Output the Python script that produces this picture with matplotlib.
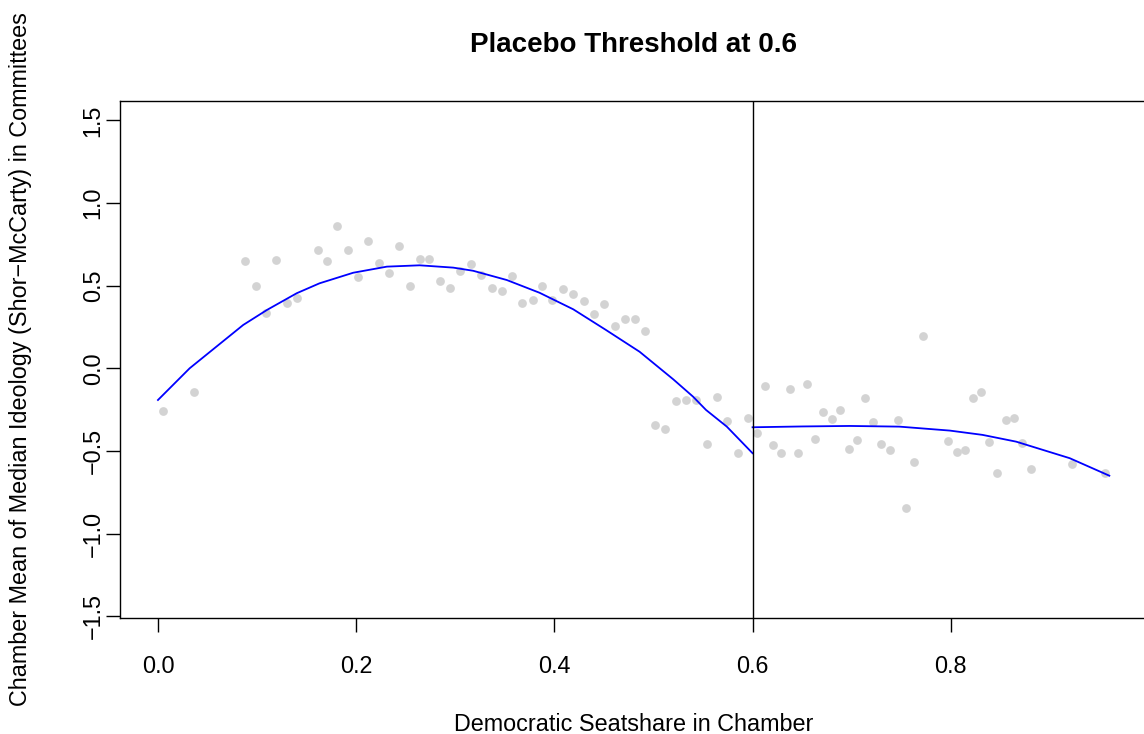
import numpy as np
import matplotlib
matplotlib.use("Agg")
import matplotlib.pyplot as plt

plt.rcParams['font.family'] = ['Liberation Sans', 'DejaVu Sans']

# Binned chamber means
seat_share = [0.005, 0.036, 0.088, 0.0985, 0.109, 0.119, 0.130, 0.140, 0.161, 0.171,
              0.181, 0.192, 0.202, 0.212, 0.223, 0.233, 0.243, 0.254, 0.264, 0.274,
              0.285, 0.295, 0.305, 0.316, 0.326, 0.337, 0.347, 0.357, 0.367, 0.378,
              0.388, 0.398, 0.409, 0.419, 0.430, 0.440, 0.450, 0.461, 0.471, 0.481,
              0.491, 0.502, 0.512, 0.523, 0.533, 0.543, 0.554, 0.564, 0.574, 0.585,
              0.595, 0.604, 0.613, 0.621, 0.629, 0.638, 0.646, 0.655, 0.663, 0.671,
              0.680, 0.688, 0.697, 0.705, 0.713, 0.722, 0.730, 0.739, 0.747, 0.755,
              0.763, 0.772, 0.797, 0.806, 0.814, 0.822, 0.831, 0.839, 0.847, 0.856,
              0.864, 0.872, 0.881, 0.922, 0.956]
ideology = [-0.260, -0.145, 0.650, 0.500, 0.336, 0.655, 0.397, 0.427, 0.714, 0.649,
            0.863, 0.718, 0.550, 0.770, 0.637, 0.575, 0.738, 0.500, 0.661, 0.661,
            0.530, 0.486, 0.587, 0.631, 0.564, 0.486, 0.466, 0.556, 0.397, 0.415,
            0.500, 0.415, 0.480, 0.449, 0.409, 0.328, 0.387, 0.254, 0.296, 0.300,
            0.227, -0.343, -0.367, -0.198, -0.192, -0.192, -0.458, -0.172, -0.317, -0.514,
            -0.303, -0.393, -0.107, -0.466, -0.510, -0.123, -0.510, -0.093, -0.428, -0.262,
            -0.305, -0.252, -0.488, -0.434, -0.180, -0.325, -0.456, -0.496, -0.315, -0.847,
            -0.565, 0.195, -0.440, -0.504, -0.494, -0.180, -0.141, -0.444, -0.631, -0.313,
            -0.303, -0.454, -0.607, -0.581, -0.635]

# Fitted curves on each side of the threshold
fit_left_x = [0.0, 0.032, 0.086, 0.110, 0.140, 0.163, 0.197, 0.231, 0.264, 0.298,
              0.318, 0.352, 0.385, 0.419, 0.452, 0.486, 0.520, 0.540, 0.553, 0.574, 0.600]
fit_left_y = [-0.192, 0.000, 0.262, 0.353, 0.454, 0.514, 0.578, 0.615, 0.623, 0.609,
              0.590, 0.534, 0.457, 0.357, 0.232, 0.100, -0.067, -0.172, -0.252, -0.353, -0.514]
fit_right_x = [0.600, 0.650, 0.698, 0.748, 0.799, 0.832, 0.866, 0.920, 0.960]
fit_right_y = [-0.357, -0.352, -0.349, -0.353, -0.377, -0.403, -0.444, -0.544, -0.650]

threshold = 0.6
x_ticks = [0.0, 0.2, 0.4, 0.6, 0.8]
x_tick_labels = ['0.0', '0.2', '0.4', '0.6', '0.8']
y_ticks = [-1.5, -1.0, -0.5, 0.0, 0.5, 1.0, 1.5]
y_tick_labels = ['\u22121.5', '\u22121.0', '\u22120.5', '0.0', '0.5', '1.0', '1.5']

W, H = 1144, 734
fig = plt.figure(figsize=(W / 100, H / 100), dpi=100)
# box runs slightly past the right edge, as in the original
ax = fig.add_axes([120.3 / W, (H - 618) / H, (1147 - 120.3) / W, (618 - 100.7) / H])

ax.plot(seat_share, ideology, 'o', color='#D3D3D3', markersize=6.3, markeredgewidth=0)
ax.plot(fit_left_x, fit_left_y, color='blue', lw=1.3)
ax.plot(fit_right_x, fit_right_y, color='blue', lw=1.3)
ax.axvline(threshold, color='black', lw=1.0)

ax.set_xlim(-0.038, 0.998)
ax.set_ylim(-1.511, 1.619)
ax.set_xticks(x_ticks, x_tick_labels)
ax.set_yticks(y_ticks, y_tick_labels)

fs = 16.8
ax.tick_params(axis='both', direction='out', length=10.2, width=1.0, labelsize=fs)
ax.tick_params(axis='x', pad=16.5)
ax.tick_params(axis='y', pad=1, labelrotation=90)
for lab in ax.get_yticklabels():
    lab.set_va('center')
for sp in ax.spines.values():
    sp.set_linewidth(1.0)

ax.set_xlabel('Democratic Seatshare in Chamber', fontsize=fs, labelpad=25)
ax.set_ylabel('Chamber Mean of Median Ideology (Shor\u2212McCarty) in Committees',
              fontsize=fs, labelpad=35.5)
ax.set_title('Placebo Threshold at 0.6', fontsize=20, fontweight='bold', pad=35)

fig.savefig('out.png', dpi=100)
